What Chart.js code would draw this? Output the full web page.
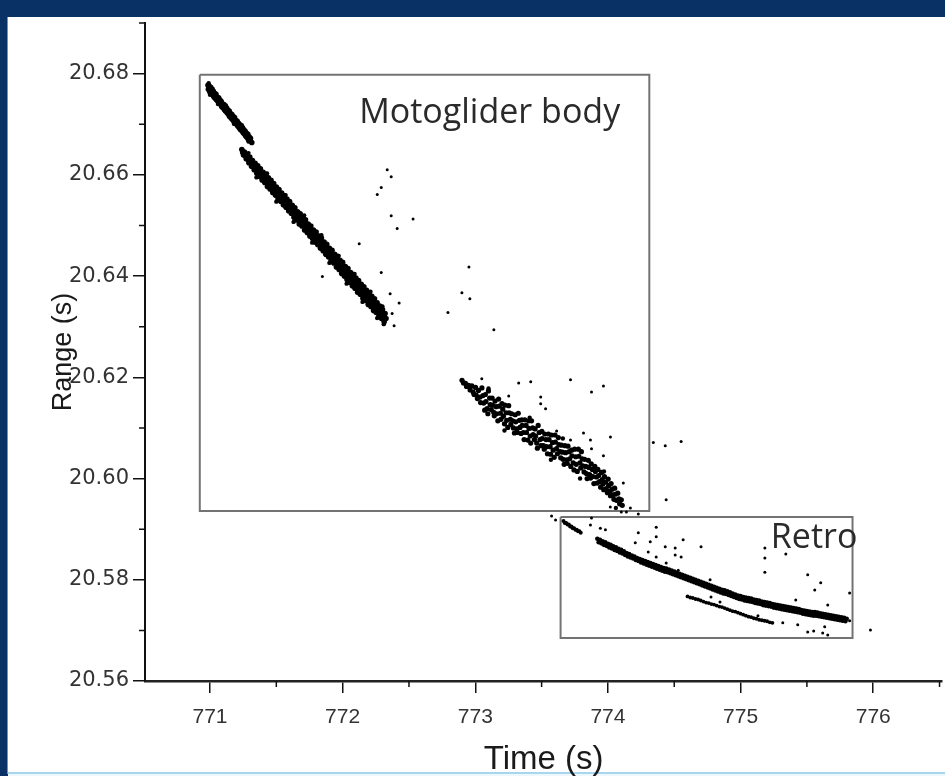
<!DOCTYPE html>
<html><head><meta charset="utf-8">
<script src="https://cdn.jsdelivr.net/npm/chart.js@4.4.0/dist/chart.umd.min.js"></script>
<style>html,body{margin:0;padding:0;background:#0a3166;}canvas{display:block;}</style>
</head><body>
<canvas id="c" width="945" height="776"></canvas>
<script>
// ---- axis ticks ----
const xTicks = [771, 772, 773, 774, 775, 776];
const xMinorTicks = [771.5, 772.5, 773.5, 774.5, 775.5, 776.5];
const yTicks = [20.56, 20.58, 20.60, 20.62, 20.64, 20.66, 20.68];
const yMinorTicks = [20.57, 20.59, 20.61, 20.63, 20.65, 20.67, 20.69];

// ---- motoglider body: first track segment [time, range] ----
const bodyTrackA = [
[770.985,20.6777],[770.988,20.6769],[770.995,20.6775],[770.998,20.6764],[771.005,20.6773],[771.007,20.6763],
[771.015,20.6767],[771.017,20.6759],[771.025,20.6765],[771.028,20.6755],[771.035,20.6761],[771.037,20.6752],
[771.045,20.6759],[771.047,20.6749],[771.055,20.6753],[771.058,20.6746],[771.065,20.6752],[771.068,20.6742],
[771.075,20.6748],[771.077,20.6740],[771.085,20.6745],[771.088,20.6735],[771.095,20.6740],[771.097,20.6733],
[771.105,20.6739],[771.108,20.6729],[771.115,20.6735],[771.117,20.6726],[771.125,20.6732],[771.128,20.6723],
[771.135,20.6728],[771.138,20.6720],[771.145,20.6726],[771.147,20.6716],[771.155,20.6721],[771.158,20.6713],
[771.165,20.6719],[771.168,20.6710],[771.175,20.6715],[771.177,20.6707],[771.185,20.6713],[771.188,20.6703],
[771.195,20.6708],[771.197,20.6701],[771.205,20.6706],[771.208,20.6697],[771.215,20.6702],[771.218,20.6694],
[771.225,20.6699],[771.228,20.6690],[771.235,20.6695],[771.237,20.6688],[771.245,20.6693],[771.248,20.6684],
[771.255,20.6689],[771.258,20.6681],[771.265,20.6686],[771.268,20.6677],[771.275,20.6682],[771.277,20.6675],
[771.285,20.6680],[771.288,20.6671],[771.295,20.6675],[771.298,20.6669],[771.305,20.6672],[771.315,20.6664]
];

// ---- motoglider body: second track segment ----
const bodyTrackB = [
[771.240,20.6650],[771.247,20.6644],[771.253,20.6639],[771.260,20.6645],[771.267,20.6637],[771.273,20.6632],
[771.280,20.6640],[771.287,20.6631],[771.293,20.6624],[771.300,20.6635],[771.307,20.6627],[771.313,20.6617],
[771.320,20.6628],[771.327,20.6618],[771.333,20.6610],[771.340,20.6623],[771.347,20.6614],[771.353,20.6603],
[771.360,20.6618],[771.367,20.6606],[771.373,20.6597],[771.380,20.6612],[771.387,20.6602],[771.393,20.6590],
[771.400,20.6605],[771.407,20.6594],[771.413,20.6585],[771.420,20.6601],[771.427,20.6590],[771.433,20.6577],
[771.440,20.6594],[771.447,20.6582],[771.453,20.6572],[771.460,20.6589],[771.467,20.6578],[771.473,20.6565],
[771.480,20.6583],[771.487,20.6570],[771.493,20.6560],[771.500,20.6576],[771.507,20.6566],[771.513,20.6553],
[771.520,20.6571],[771.527,20.6558],[771.533,20.6548],[771.540,20.6564],[771.547,20.6554],[771.553,20.6541],
[771.560,20.6559],[771.567,20.6546],[771.573,20.6536],[771.580,20.6552],[771.587,20.6542],[771.593,20.6529],
[771.600,20.6547],[771.607,20.6534],[771.613,20.6524],[771.620,20.6540],[771.627,20.6529],[771.633,20.6516],
[771.640,20.6535],[771.647,20.6521],[771.653,20.6511],[771.660,20.6527],[771.667,20.6517],[771.673,20.6503],
[771.680,20.6523],[771.687,20.6509],[771.693,20.6499],[771.700,20.6515],[771.707,20.6505],[771.713,20.6491],
[771.720,20.6511],[771.727,20.6497],[771.733,20.6486],[771.740,20.6503],[771.747,20.6493],[771.753,20.6479],
[771.760,20.6499],[771.767,20.6485],[771.773,20.6474],[771.780,20.6491],[771.787,20.6481],[771.793,20.6467],
[771.800,20.6487],[771.807,20.6473],[771.813,20.6462],[771.820,20.6479],[771.827,20.6469],[771.833,20.6455],
[771.840,20.6475],[771.847,20.6461],[771.853,20.6450],[771.860,20.6467],[771.867,20.6457],[771.873,20.6443],
[771.880,20.6463],[771.887,20.6449],[771.893,20.6438],[771.900,20.6455],[771.907,20.6445],[771.913,20.6431],
[771.920,20.6451],[771.927,20.6437],[771.933,20.6426],[771.940,20.6443],[771.947,20.6432],[771.953,20.6418],
[771.960,20.6439],[771.967,20.6424],[771.973,20.6413],[771.980,20.6431],[771.987,20.6420],[771.993,20.6405],
[772.000,20.6427],[772.007,20.6412],[772.013,20.6400],[772.020,20.6419],[772.027,20.6408],[772.033,20.6393],
[772.040,20.6415],[772.047,20.6400],[772.053,20.6388],[772.060,20.6407],[772.067,20.6396],[772.073,20.6381],
[772.080,20.6403],[772.087,20.6388],[772.093,20.6376],[772.100,20.6396],[772.107,20.6384],[772.113,20.6368],
[772.120,20.6391],[772.127,20.6376],[772.133,20.6364],[772.140,20.6384],[772.147,20.6372],[772.153,20.6356],
[772.160,20.6379],[772.167,20.6364],[772.173,20.6352],[772.180,20.6372],[772.187,20.6360],[772.193,20.6344],
[772.200,20.6367],[772.207,20.6352],[772.213,20.6340],[772.220,20.6360],[772.227,20.6348],[772.233,20.6332],
[772.240,20.6355],[772.247,20.6340],[772.253,20.6328],[772.260,20.6347],[772.267,20.6335],[772.273,20.6320],
[772.280,20.6341],[772.287,20.6328],[772.293,20.6316],[772.300,20.6334],[772.307,20.6322],[772.313,20.6310],
[772.320,20.6326],[772.327,20.6316]
];

// ---- motoglider body: later cloud (773-774 s) ----
const bodyTrackC = [
[772.900,20.6194],[772.911,20.6189],[772.926,20.6188],[772.934,20.6182],[772.949,20.6184],[772.961,20.6175],
[772.974,20.6183],[772.984,20.6171],[772.991,20.6166],[773.002,20.6180],[773.007,20.6165],[773.016,20.6158],
[773.024,20.6174],[773.036,20.6161],[773.040,20.6150],
[773.050,20.6179],[773.058,20.6164],[773.063,20.6149],[773.071,20.6135],
[773.076,20.6166],[773.080,20.6152],[773.089,20.6138],[773.095,20.6128],
[773.099,20.6173],[773.108,20.6159],[773.112,20.6146],[773.121,20.6136],
[773.127,20.6159],[773.130,20.6145],[773.139,20.6131],[773.143,20.6124],
[773.149,20.6153],[773.157,20.6142],[773.161,20.6128],[773.170,20.6114],
[773.176,20.6157],[773.180,20.6143],[773.189,20.6129],[773.193,20.6117],
[773.201,20.6148],[773.207,20.6137],[773.212,20.6123],[773.220,20.6108],
[773.224,20.6145],[773.232,20.6130],[773.237,20.6115],[773.245,20.6101],
[773.252,20.6144],[773.255,20.6130],[773.264,20.6117],[773.268,20.6107],
[773.274,20.6128],[773.282,20.6114],[773.287,20.6100],[773.295,20.6090],
[773.301,20.6126],[773.305,20.6112],[773.314,20.6098],[773.318,20.6091],
[773.324,20.6129],[773.333,20.6115],[773.337,20.6101],[773.345,20.6089],
[773.351,20.6116],[773.354,20.6105],[773.362,20.6091],[773.368,20.6077],
[773.374,20.6116],[773.383,20.6105],[773.386,20.6091],[773.396,20.6076],
[773.402,20.6114],[773.405,20.6099],[773.414,20.6084],[773.418,20.6070],
[773.424,20.6114],[773.433,20.6100],[773.436,20.6087],[773.446,20.6077],
[773.451,20.6098],[773.455,20.6084],[773.463,20.6070],[773.468,20.6060],
[773.474,20.6105],[773.482,20.6091],[773.488,20.6077],[773.495,20.6065],
[773.502,20.6093],[773.504,20.6079],[773.513,20.6065],[773.520,20.6058],
[773.524,20.6088],[773.533,20.6077],[773.536,20.6063],[773.544,20.6049],
[773.551,20.6088],[773.556,20.6077],[773.564,20.6063],[773.568,20.6048],
[773.574,20.6086],[773.582,20.6071],[773.587,20.6056],[773.595,20.6042],
[773.601,20.6086],[773.604,20.6072],[773.613,20.6059],[773.619,20.6049],
[773.626,20.6081],[773.630,20.6067],[773.639,20.6053],[773.644,20.6041],
[773.649,20.6066],[773.657,20.6052],[773.662,20.6038],[773.670,20.6028],
[773.676,20.6065],[773.681,20.6051],[773.688,20.6037],[773.693,20.6030],
[773.699,20.6064],[773.708,20.6053],[773.712,20.6039],[773.720,20.6024],
[773.726,20.6056],[773.729,20.6045],[773.738,20.6031],[773.744,20.6017],
[773.749,20.6058],[773.757,20.6043],[773.761,20.6028],[773.769,20.6014],
[773.777,20.6058],[773.781,20.6044],[773.789,20.6031],[773.795,20.6021],
[773.800,20.6053],[773.806,20.6039],[773.811,20.6025],[773.820,20.6013],
[773.824,20.6038],[773.833,20.6024],[773.838,20.6010],[773.843,20.6000],
[773.852,20.6036],[773.856,20.6022],[773.862,20.6008],[773.869,20.6001],
[773.874,20.6029],[773.882,20.6018],[773.887,20.6004],[773.894,20.5990],
[773.901,20.6024],[773.905,20.6014],[773.914,20.6003],[773.918,20.5991],
[773.924,20.6018],[773.931,20.6006],[773.937,20.5994],[773.945,20.5983],
[773.951,20.6012],[773.957,20.5998],[773.962,20.5989],[773.968,20.5978],
[773.974,20.6004],[773.983,20.5993],[773.987,20.5980],[773.996,20.5972],
[774.002,20.5999],[774.005,20.5986],[774.014,20.5975],[774.019,20.5966],
[774.024,20.5990],[774.032,20.5979],[774.036,20.5968],[774.045,20.5959],
[774.051,20.5981],[774.055,20.5969],[774.064,20.5957],
[774.074,20.5971],[774.083,20.5960],[774.088,20.5950],
[774.101,20.5958],[774.108,20.5947]
];

// ---- motoglider body: loose returns along the edges of the tracks ----
const bodyFringe = [
[770.990,20.6781],[771.000,20.6758],[771.020,20.6770],[771.060,20.6740],[771.120,20.6737],[771.180,20.6701],
[771.240,20.6698],[771.290,20.6666],
[771.290,20.6643],[771.350,20.6595],[771.430,20.6603],[771.500,20.6547],[771.570,20.6560],[771.630,20.6507],
[771.710,20.6520],[771.770,20.6466],[771.840,20.6481],[771.900,20.6426],[771.970,20.6440],[772.030,20.6385],
[772.090,20.6404],[772.150,20.6349],[772.210,20.6369],[772.260,20.6317],[772.310,20.6305],[772.300,20.6340],
[773.100,20.6178],[773.220,20.6095],[773.410,20.6120],[773.570,20.6037],[773.660,20.6079],[773.790,20.6000],
[773.970,20.6014],[774.060,20.5942]
];

// ---- retro: main curve ----
const retroMain = [
[773.920,20.5881],[773.930,20.5874],[773.940,20.5879],[773.950,20.5872],[773.960,20.5876],[773.970,20.5869],
[773.980,20.5874],[773.990,20.5867],[774.000,20.5871],[774.010,20.5864],[774.020,20.5869],[774.030,20.5862],
[774.040,20.5866],[774.050,20.5859],[774.060,20.5864],[774.070,20.5857],[774.080,20.5861],[774.090,20.5854],
[774.100,20.5859],[774.110,20.5852],[774.120,20.5856],[774.130,20.5849],[774.140,20.5853],[774.150,20.5846],
[774.160,20.5851],[774.170,20.5844],[774.180,20.5848],[774.190,20.5842],[774.200,20.5846],[774.210,20.5839],
[774.220,20.5843],[774.230,20.5837],[774.240,20.5841],[774.250,20.5834],[774.260,20.5839],[774.270,20.5832],
[774.280,20.5837],[774.290,20.5830],[774.300,20.5835],[774.310,20.5828],[774.320,20.5833],[774.330,20.5826],
[774.340,20.5831],[774.350,20.5824],[774.360,20.5829],[774.370,20.5822],[774.380,20.5827],[774.390,20.5820],
[774.400,20.5825],[774.410,20.5818],[774.420,20.5823],[774.430,20.5816],[774.440,20.5822],[774.450,20.5815],
[774.460,20.5820],[774.470,20.5813],[774.480,20.5818],[774.490,20.5811],[774.500,20.5816],[774.510,20.5809],
[774.520,20.5814],[774.530,20.5807],[774.540,20.5812],[774.550,20.5805],[774.560,20.5810],[774.570,20.5803],
[774.580,20.5808],[774.590,20.5801],[774.600,20.5806],[774.610,20.5799],[774.620,20.5804],[774.630,20.5797],
[774.640,20.5802],[774.650,20.5795],[774.660,20.5800],[774.670,20.5793],[774.680,20.5798],[774.690,20.5791],
[774.700,20.5796],[774.710,20.5789],[774.720,20.5794],[774.730,20.5787],[774.740,20.5792],[774.750,20.5785],
[774.760,20.5790],[774.770,20.5783],[774.780,20.5788],[774.790,20.5781],[774.800,20.5786],[774.810,20.5779],
[774.820,20.5784],[774.830,20.5777],[774.840,20.5782],[774.850,20.5775],[774.860,20.5780],[774.870,20.5773],
[774.880,20.5779],[774.890,20.5772],[774.900,20.5777],[774.910,20.5770],[774.920,20.5775],[774.930,20.5768],
[774.940,20.5773],[774.950,20.5766],[774.960,20.5771],[774.970,20.5764],[774.980,20.5769],[774.990,20.5762],
[775.000,20.5768],[775.010,20.5761],[775.020,20.5766],[775.030,20.5759],[775.040,20.5765],[775.050,20.5758],
[775.060,20.5764],[775.070,20.5757],[775.080,20.5763],[775.090,20.5756],[775.100,20.5761],[775.110,20.5754],
[775.120,20.5760],[775.130,20.5753],[775.140,20.5759],[775.150,20.5752],[775.160,20.5757],[775.170,20.5750],
[775.180,20.5756],[775.190,20.5749],[775.200,20.5755],[775.210,20.5748],[775.220,20.5754],[775.230,20.5747],
[775.240,20.5752],[775.250,20.5745],[775.260,20.5751],[775.270,20.5744],[775.280,20.5750],[775.290,20.5743],
[775.300,20.5749],[775.310,20.5742],[775.320,20.5748],[775.330,20.5741],[775.340,20.5747],[775.350,20.5740],
[775.360,20.5746],[775.370,20.5739],[775.380,20.5745],[775.390,20.5738],[775.400,20.5744],[775.410,20.5737],
[775.420,20.5743],[775.430,20.5736],[775.440,20.5742],[775.450,20.5735],[775.460,20.5740],[775.470,20.5733],
[775.480,20.5739],[775.490,20.5732],[775.500,20.5738],[775.510,20.5731],[775.520,20.5737],[775.530,20.5730],
[775.540,20.5736],[775.550,20.5729],[775.560,20.5736],[775.570,20.5729],[775.580,20.5735],[775.590,20.5728],
[775.600,20.5734],[775.610,20.5727],[775.620,20.5733],[775.630,20.5726],[775.640,20.5732],[775.650,20.5725],
[775.660,20.5731],[775.670,20.5724],[775.680,20.5730],[775.690,20.5723],[775.700,20.5729],[775.710,20.5722],
[775.720,20.5728],[775.730,20.5721],[775.740,20.5727],[775.750,20.5720],[775.760,20.5726],[775.770,20.5719],
[775.780,20.5725],[775.790,20.5718],[775.800,20.5723]
];

// ---- retro: short upper-left trace ----
const retroUpper = [
[773.665,20.5916],[773.675,20.5912],[773.685,20.5912],[773.695,20.5909],[773.705,20.5909],[773.715,20.5905],
[773.725,20.5905],[773.735,20.5902],[773.745,20.5902],[773.755,20.5899],[773.765,20.5899],[773.775,20.5896],
[773.785,20.5896],[773.795,20.5893]
];

// ---- retro: lower secondary trace ----
const retroLower = [
[774.600,20.5767],[774.620,20.5765],[774.640,20.5764],[774.660,20.5762],[774.680,20.5761],[774.700,20.5759],
[774.720,20.5757],[774.740,20.5755],[774.760,20.5754],[774.780,20.5752],[774.800,20.5751],[774.820,20.5749],
[774.840,20.5747],[774.860,20.5746],[774.880,20.5744],[774.900,20.5742],[774.920,20.5740],[774.940,20.5738],
[774.960,20.5737],[774.980,20.5735],[775.000,20.5733],[775.020,20.5731],[775.040,20.5729],[775.060,20.5727],
[775.080,20.5726],[775.100,20.5724],[775.120,20.5723],[775.140,20.5721],[775.160,20.5720],[775.180,20.5719],
[775.200,20.5718],[775.220,20.5716],[775.240,20.5715]
];

// ---- isolated returns ----
const strayPoints = [
[772.336,20.6610],[772.366,20.6596],[772.291,20.6575],[772.261,20.6561],[772.366,20.6519],[772.531,20.6513],
[772.411,20.6494],[772.125,20.6464],[772.291,20.6407],[772.358,20.6365],[772.426,20.6347],[772.388,20.6302],
[771.847,20.6399],[772.373,20.6326],
[772.952,20.6418],[772.899,20.6367],[772.959,20.6355],[772.794,20.6328],[773.140,20.6294],
[773.049,20.6197],[773.327,20.6189],[773.418,20.6191],[773.718,20.6195],[773.966,20.6183],[773.876,20.6171],
[773.493,20.6161],[773.252,20.6163],[773.493,20.6148],[773.530,20.6138],[773.613,20.6094],[773.816,20.6090],
[774.019,20.6082],[773.718,20.6076],[773.868,20.6076],[773.876,20.6059],[773.966,20.6045],[774.116,20.5991],
[774.432,20.6065],[774.342,20.6071],[774.552,20.6073],[774.439,20.5958],
[774.101,20.5934],[774.139,20.5934],[774.229,20.5930],[774.018,20.5944],[774.169,20.5942],[773.575,20.5926],
[773.605,20.5918],[773.876,20.5922],[773.868,20.5908],[773.943,20.5902],[773.981,20.5899],[774.229,20.5893],
[774.364,20.5904],[774.364,20.5885],[774.206,20.5873],[774.319,20.5875],[774.304,20.5855],[774.364,20.5845],
[774.432,20.5865],[774.507,20.5863],[774.507,20.5849],[774.552,20.5845],[774.439,20.5833],[774.567,20.5879],
[774.702,20.5865],[774.530,20.5819],[774.770,20.5800],[775.183,20.5863],[775.183,20.5843],[775.341,20.5851],
[775.183,20.5815],[775.506,20.5810],[775.604,20.5794],[775.559,20.5780],[775.822,20.5774],[775.657,20.5750],
[775.416,20.5760],[775.318,20.5715],[774.777,20.5766],[774.845,20.5756],[775.979,20.5701],[775.506,20.5697],
[775.551,20.5699],[775.619,20.5695],[775.657,20.5691],[775.634,20.5707],[775.822,20.5719],[775.431,20.5711],
[775.131,20.5729]
];

// ---- annotation boxes (time, range corners) and labels ----
const bodyBox = [[770.923,20.6798],[774.312,20.6798],[774.312,20.5936],[770.923,20.5936],[770.923,20.6798]];
const retroBox = [[773.643,20.5924],[775.844,20.5924],[775.844,20.5685],[773.643,20.5685],[773.643,20.5924]];
const boxLabels = [
  {text: 'Motoglider body', t: 772.125, r: 20.6703},
  {text: 'Retro', t: 775.228, r: 20.5863}
];

const toXY = a => a.map(p => ({x: p[0], y: p[1]}));

const framePlugin = {
  id: 'frame',
  beforeDraw(chart) {
    const c = chart.ctx;
    c.save();
    c.fillStyle = '#0a3166';
    c.fillRect(0, 0, chart.width, chart.height);
    c.fillStyle = '#ffffff';
    c.fillRect(8, 17, chart.width - 8, 755);
    c.fillStyle = '#a9d6ef';
    c.fillRect(8, 772, chart.width - 8, 2);
    c.fillStyle = '#eef7fc';
    c.fillRect(8, 774, chart.width - 8, 2);
    c.fillStyle = '#6f93bd';
    c.fillRect(7, 17, 1, 757);
    c.restore();
  }
};

const minorTickPlugin = {
  id: 'minorTicks',
  afterDraw(chart) {
    const c = chart.ctx, xs = chart.scales.x, ys = chart.scales.y;
    c.save();
    c.strokeStyle = '#111';
    c.lineWidth = 1.5;
    c.beginPath();
    xMinorTicks.forEach(v => {
      const px = xs.getPixelForValue(v);
      c.moveTo(px, xs.top); c.lineTo(px, xs.top + 6);
    });
    yMinorTicks.forEach(v => {
      const py = ys.getPixelForValue(v);
      c.moveTo(ys.right, py); c.lineTo(ys.right - 6, py);
    });
    c.stroke();
    c.restore();
  }
};

const labelPlugin = {
  id: 'boxLabels',
  afterDatasetsDraw(chart) {
    const c = chart.ctx, xs = chart.scales.x, ys = chart.scales.y;
    c.save();
    c.fillStyle = '#2a2a2a';
    c.font = '34px "Open Sans", "Noto Sans", sans-serif';
    c.textBaseline = 'alphabetic';
    c.textAlign = 'left';
    boxLabels.forEach(l => c.fillText(l.text, xs.getPixelForValue(l.t), ys.getPixelForValue(l.r)));
    c.restore();
  }
};

const ptStyle = (data, r) => ({
  data: toXY(data), pointRadius: r, pointHoverRadius: r, pointBorderWidth: 0,
  backgroundColor: '#000', borderColor: '#000', order: 1
});
const boxStyle = data => ({
  data: toXY(data), showLine: true, pointRadius: 0, borderColor: '#737373',
  borderWidth: 2, fill: false, order: 2
});

new Chart(document.getElementById('c'), {
  type: 'scatter',
  data: {
    datasets: [
      boxStyle(bodyBox),
      boxStyle(retroBox),
      ptStyle(bodyTrackA, 2.8),
      ptStyle(bodyTrackB, 2.8),
      ptStyle(bodyTrackC, 2.6),
      ptStyle(bodyFringe, 2.2),
      ptStyle(retroMain, 2.3),
      ptStyle(retroUpper, 2),
      ptStyle(retroLower, 1.9),
      ptStyle(strayPoints, 1.5)
    ]
  },
  options: {
    responsive: false,
    animation: false,
    layout: {padding: {left: 0, right: 0, top: 23, bottom: 0}},
    plugins: {legend: {display: false}, tooltip: {enabled: false}},
    scales: {
      x: {
        type: 'linear', position: 'bottom', min: 770.51, max: 776.52,
        afterFit: s => { s.height = 95; },
        afterBuildTicks: s => { s.ticks = xTicks.map(v => ({value: v})); },
        ticks: {
          callback: v => String(v), color: '#333', padding: 12,
          font: {family: '"Liberation Sans", Arial, sans-serif', size: 21}, maxRotation: 0, autoSkip: false
        },
        grid: {display: true, drawOnChartArea: false, drawTicks: true, tickLength: 12, color: '#111', lineWidth: 1.5},
        border: {display: true, color: '#222', width: 2.5},
        title: {display: true, text: 'Time (s)', color: '#1a1a1a', padding: {top: 0, bottom: 0},
          font: {family: '"Liberation Sans", Arial, sans-serif', size: 33, lineHeight: 1}}
      },
      y: {
        type: 'linear', position: 'left', min: 20.56, max: 20.69,
        afterFit: s => { s.width = 145; },
        afterBuildTicks: s => { s.ticks = yTicks.map(v => ({value: v})); },
        ticks: {
          callback: v => v.toFixed(2), color: '#333', padding: 4,
          font: {family: '"DejaVu Sans", sans-serif', size: 21}, autoSkip: false
        },
        grid: {display: true, drawOnChartArea: false, drawTicks: true, tickLength: 12, color: '#111', lineWidth: 1.5},
        border: {display: true, color: '#111', width: 2},
        title: {display: true, text: 'Range (s)', color: '#1a1a1a', padding: {top: 47, bottom: 0},
          font: {family: '"Liberation Sans", Arial, sans-serif', size: 27}}
      }
    }
  },
  plugins: [framePlugin, minorTickPlugin, labelPlugin]
});
</script>
</body></html>
